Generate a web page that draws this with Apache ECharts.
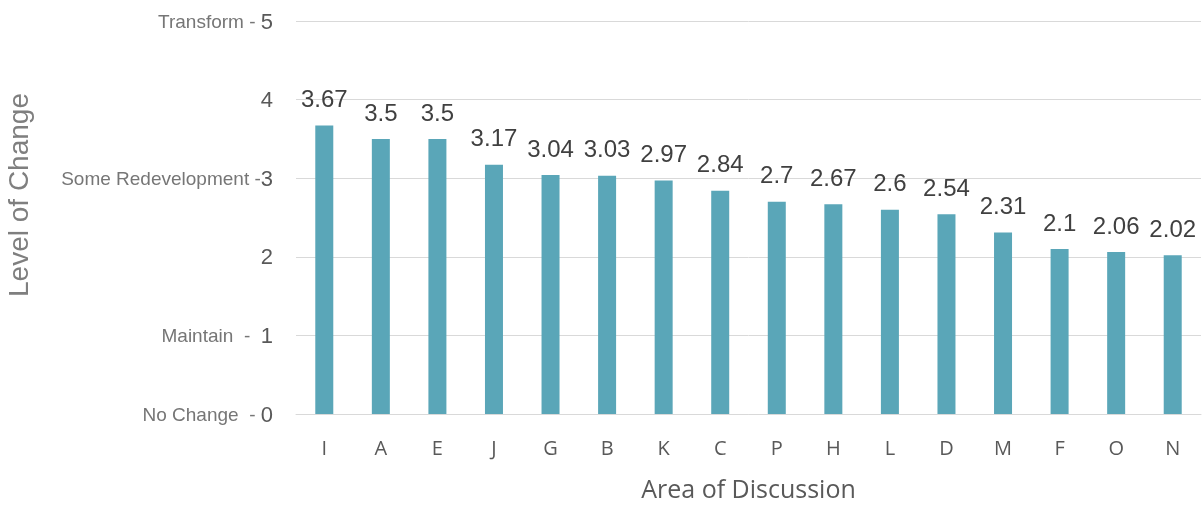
<!DOCTYPE html>
<html>
<head>
<meta charset="utf-8">
<script src="https://cdn.jsdelivr.net/npm/echarts@6/dist/echarts.min.js"></script>
<style>html,body{margin:0;padding:0;background:#fff}#c{width:1204px;height:508px}</style>
</head>
<body>
<div id="c"></div>
<script>
const categories = ['I','A','E','J','G','B','K','C','P','H','L','D','M','F','O','N'];
const values = [3.67,3.5,3.5,3.17,3.04,3.03,2.97,2.84,2.7,2.67,2.6,2.54,2.31,2.1,2.06,2.02];
const yTickValues = [0,1,2,3,4,5];
const yTickNames = {0:'No Change  - ', 1:'Maintain  -  ', 3:'Some Redevelopment -', 5:'Transform - '};
const xAxisTitle = 'Area of Discussion';
const yAxisTitle = 'Level of Change';

const chart = echarts.init(document.getElementById('c'));
chart.setOption({
  animation: false,
  grid: {left: 296, right: 3, top: 21, bottom: 92},
  xAxis: {
    type: 'category',
    data: categories,
    axisTick: {show: false},
    axisLine: {lineStyle: {color: '#d9d9d9', width: 1}},
    axisLabel: {color: '#595959', fontSize: 20, fontFamily: 'Open Sans', margin: 25},
    name: xAxisTitle,
    nameLocation: 'middle',
    nameGap: 64,
    nameTextStyle: {color: '#595959', fontSize: 25, fontFamily: 'Open Sans'}
  },
  yAxis: {
    type: 'value',
    min: 0, max: 5, interval: 1,
    axisLine: {show: false},
    axisTick: {show: false},
    splitLine: {lineStyle: {color: '#d9d9d9', width: 1}},
    axisLabel: {
      margin: 23,
      formatter: function (v) {
        const n = yTickNames[v];
        return (n ? '{t|' + n + '}' : '') + '{n|' + v + '}';
      },
      rich: {
        t: {color: '#767676', fontSize: 19, fontFamily: 'Liberation Sans', padding: [3, 0, 0, 0]},
        n: {color: '#595959', fontSize: 22, fontFamily: 'Liberation Sans', padding: [3, 0, 0, 0]}
      }
    }
  },
  graphic: [{
    type: 'text',
    x: 20, y: 195,
    rotation: Math.PI / 2,
    style: {text: yAxisTitle, fill: '#7f7f7f', fontSize: 28, fontFamily: 'Liberation Sans', textAlign: 'center', textVerticalAlign: 'middle'}
  }],
  series: [{
    type: 'bar',
    data: values,
    barWidth: 18,
    itemStyle: {color: '#5aa6b8'},
    label: {show: true, position: 'top', distance: 13, color: '#404040', fontSize: 24, fontFamily: 'Liberation Sans'}
  }]
});
</script>
</body>
</html>
